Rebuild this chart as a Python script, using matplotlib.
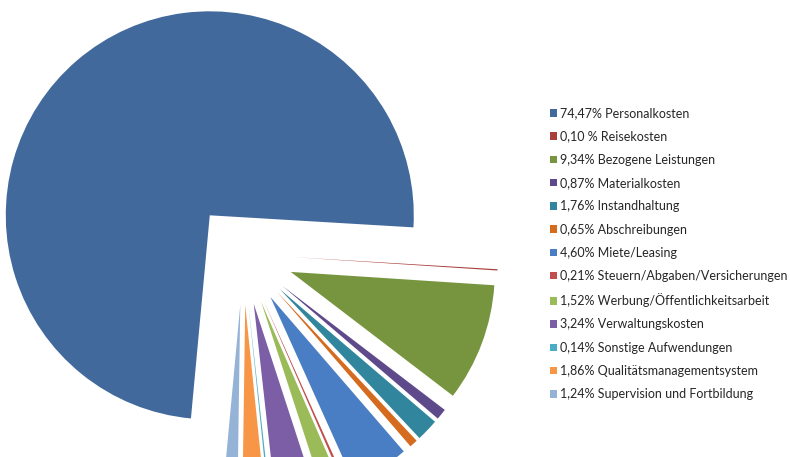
import matplotlib.pyplot as plt

shares = [74.47, 0.10, 9.34, 0.87, 1.76, 0.65, 4.60, 0.21, 1.52, 3.24, 0.14, 1.86, 1.24]
pct_text = ["74,47%", "0,10 %", "9,34%", "0,87%", "1,76%", "0,65%", "4,60%",
            "0,21%", "1,52%", "3,24%", "0,14%", "1,86%", "1,24%"]
names = ["Personalkosten", "Reisekosten", "Bezogene Leistungen", "Materialkosten",
         "Instandhaltung", "Abschreibungen", "Miete/Leasing",
         "Steuern/Abgaben/Versicherungen", "Werbung/Öffentlichkeitsarbeit",
         "Verwaltungskosten", "Sonstige Aufwendungen", "Qualitätsmanagementsystem",
         "Supervision und Fortbildung"]
colors = ["#41699c", "#a8403d", "#77953f", "#5e4a8a", "#31859c", "#d46b1f", "#4a7ec4",
          "#c0504d", "#9bbb59", "#7b5ea6", "#4bacc6", "#f79646", "#95b3d7"]

W, H = 790, 457
R = 204.0          # pie radius in pixels
cx, cy = 243, 203  # pie centre in pixels (from bottom-left)

fig = plt.figure(figsize=(W / 100, H / 100), dpi=100)
ax = fig.add_axes([0, 0, 1, 1])

wedges, _ = ax.pie(shares, colors=colors, startangle=264.7, counterclock=False,
                   explode=[0.25] * len(shares),
                   wedgeprops=dict(linewidth=0))
ax.set_xlim(-cx / R, (W - cx) / R)
ax.set_ylim(-cy / R, (H - cy) / R)
ax.axis("off")

labels = [f"{p} {n}" for p, n in zip(pct_text, names)]
ax.legend(wedges, labels, loc="upper left", bbox_to_anchor=(544 / W, 1 - 101 / H),
          bbox_transform=fig.transFigure, frameon=False, borderpad=0,
          handlelength=0.55, handleheight=0.55, handletextpad=0.25,
          labelspacing=0.90, prop=dict(family="Lato", size=9.0),
          labelcolor="#262626")

fig.savefig("out.png", dpi=100)
